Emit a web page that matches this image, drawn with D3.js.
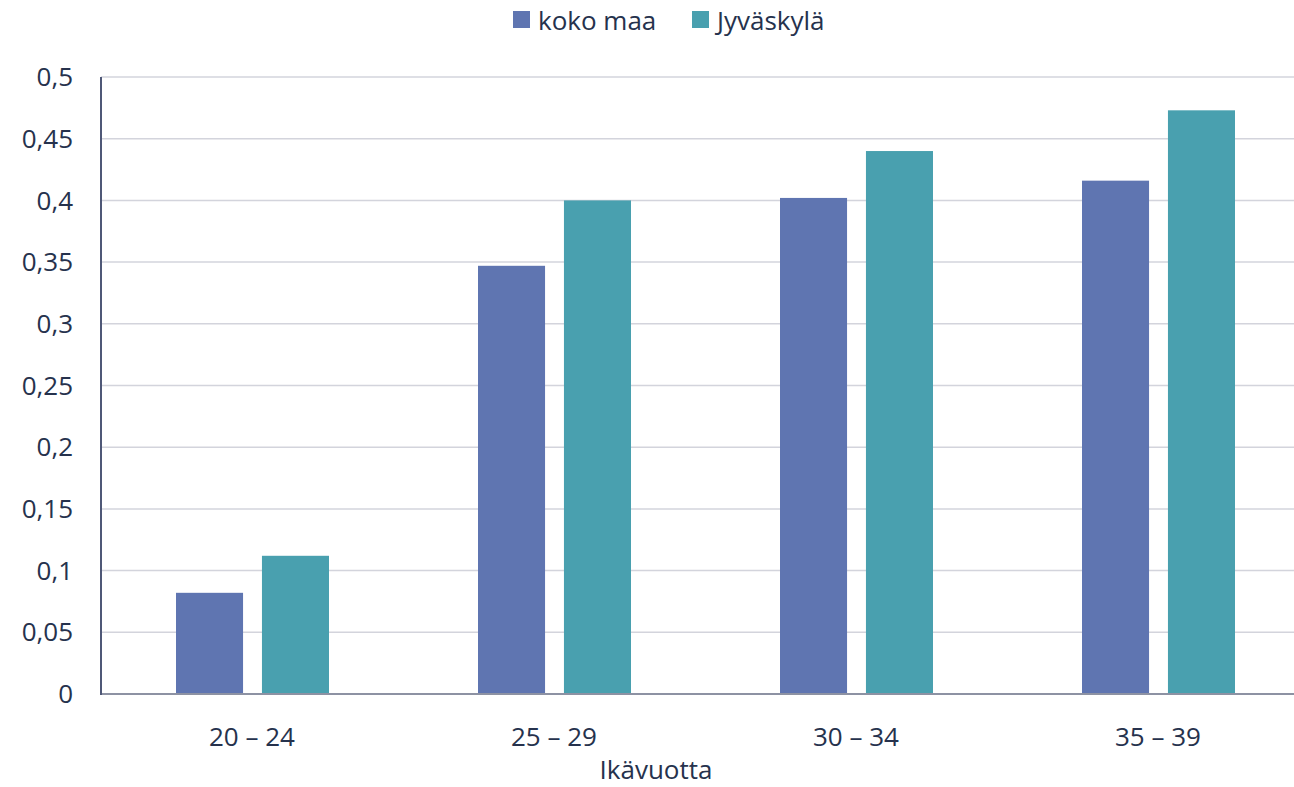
<!DOCTYPE html>
<html>
<head>
<meta charset="utf-8">
<script src="https://cdn.jsdelivr.net/npm/d3@7"></script>
<style>
  body { margin: 0; background: #fff; }
  text { font-family: "Open Sans", "Noto Sans", sans-serif; fill: #26324d; }
</style>
</head>
<body>
<div id="chart"></div>
<script>
// ikäryhmät ja sarjat
const categories = ["20 – 24", "25 – 29", "30 – 34", "35 – 39"];
const series = ["koko maa", "Jyväskylä"];
const kokoMaa = [0.082, 0.347, 0.402, 0.416];
const jyvaskyla = [0.112, 0.400, 0.440, 0.473];
const yTicks = [0, 0.05, 0.1, 0.15, 0.2, 0.25, 0.3, 0.35, 0.4, 0.45, 0.5];
const colors = ["#5f75b1", "#49a0af"];

const width = 1294, height = 787;
const plotLeft = 101, plotRight = 1309, plotTop = 77, plotBottom = 694;

const svg = d3.select("#chart").append("svg")
    .attr("width", width)
    .attr("height", height);

const y = d3.scaleLinear().domain([0, 0.5]).range([plotBottom, plotTop]);
const x0 = d3.scaleBand().domain(categories).range([plotLeft, plotRight]);
const x1 = d3.scaleBand().domain(series).range([75, 228]).paddingInner(0.22);

const fmt = d => String(d).replace(".", ",");

// ruudukko
svg.append("g").selectAll("line")
    .data(yTicks.filter(d => d > 0))
    .enter().append("line")
    .attr("x1", plotLeft).attr("x2", plotRight)
    .attr("y1", d => y(d)).attr("y2", d => y(d))
    .attr("stroke", "#d3d4dc").attr("stroke-width", 1.5);

// y-akselin tekstit
svg.append("g").selectAll("text")
    .data(yTicks)
    .enter().append("text")
    .attr("x", 73)
    .attr("y", d => y(d))
    .attr("dy", "0.35em")
    .attr("text-anchor", "end")
    .style("font-size", "26px")
    .text(fmt);

// pylväät
const rows = categories.map((c, i) => ({ cat: c, vals: [kokoMaa[i], jyvaskyla[i]] }));
const groups = svg.append("g").selectAll("g")
    .data(rows)
    .enter().append("g")
    .attr("transform", d => `translate(${x0(d.cat)},0)`);

groups.selectAll("rect")
    .data(d => d.vals.map((v, j) => ({ s: series[j], v: v, j: j })))
    .enter().append("rect")
    .attr("x", d => x1(d.s))
    .attr("y", d => y(d.v))
    .attr("width", x1.bandwidth())
    .attr("height", d => plotBottom - y(d.v))
    .attr("fill", d => colors[d.j]);

// akselit
svg.append("line")
    .attr("x1", plotLeft).attr("x2", plotRight)
    .attr("y1", plotBottom).attr("y2", plotBottom)
    .attr("stroke", "#8d92a3").attr("stroke-width", 2);
svg.append("line")
    .attr("x1", plotLeft).attr("x2", plotLeft)
    .attr("y1", plotTop).attr("y2", plotBottom + 1)
    .attr("stroke", "#4f5877").attr("stroke-width", 2);

// x-akselin tekstit
svg.append("g").selectAll("text")
    .data(categories)
    .enter().append("text")
    .attr("x", d => x0(d) + x0.bandwidth() / 2)
    .attr("y", 746)
    .attr("text-anchor", "middle")
    .style("font-size", "26px")
    .text(d => d);

svg.append("text")
    .attr("x", 656)
    .attr("y", 779)
    .attr("text-anchor", "middle")
    .style("font-size", "26px")
    .text("Ikävuotta");

// selite
const legendX = [513, 692];
const legend = svg.append("g").selectAll("g")
    .data(series)
    .enter().append("g")
    .attr("transform", (d, i) => `translate(${legendX[i]},11)`);
legend.append("rect")
    .attr("width", 17).attr("height", 17)
    .attr("fill", (d, i) => colors[i]);
legend.append("text")
    .attr("x", 25).attr("y", 19)
    .style("font-size", "26px")
    .text(d => d);
</script>
</body>
</html>
